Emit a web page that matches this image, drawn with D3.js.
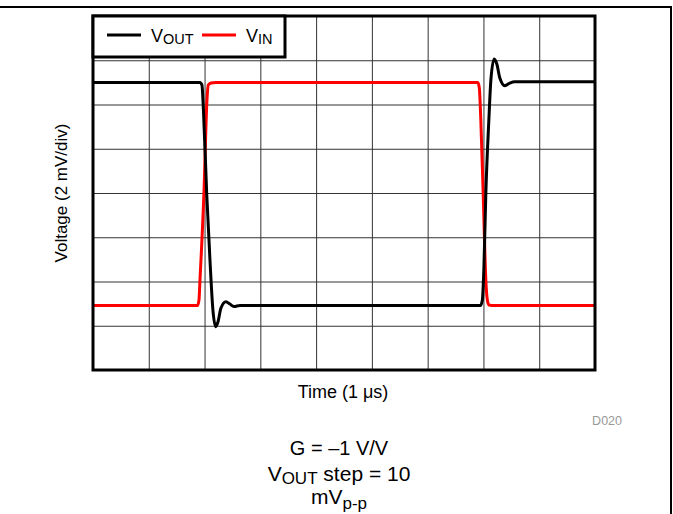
<!DOCTYPE html>
<html><head><meta charset="utf-8">
<script src="https://cdn.jsdelivr.net/npm/d3@7"></script>
<style>
body{margin:0;background:#fff;}
svg{display:block;font-family:Arial,"Liberation Sans",sans-serif;}
</style></head>
<body><svg id="c" width="673" height="514"></svg>
<script>
// time in µs, voltage in mV
const voutT = [0,1.917,1.953,1.98,2.038,2.097,2.15,2.199,2.24,2.294,2.383,2.455,2.527,2.634,6.948,6.98,7.007,7.043,7.097,7.133,7.192,7.24,7.294,7.384,7.473,7.563,9];
const voutV = [5.0,5.0,4.88,3.75,0,-3.03,-5.29,-6.04,-5.83,-5.2,-4.91,-5.02,-5.13,-5.08,-5.08,-4.85,-3.48,0,3.3,5.1,6.06,5.83,5.2,4.85,4.97,5.03,5.03];
const vinT = [0,1.873,1.9,1.918,1.989,2.043,2.066,2.115,2.204,6.9,6.926,6.953,6.995,7.043,7.07,7.097,7.2,9];
const vinV = [-5.09,-5.09,-4.84,-3.93,0,4.2,4.88,4.97,5.0,5.0,4.75,3.3,0,-3.93,-4.84,-5.06,-5.09,-5.09];
const xTicks = [0,1,2,3,4,5,6,7,8,9];
const yTicks = [-8,-6,-4,-2,0,2,4,6,8];
const seriesNames = ["VOUT","VIN"];

const svg = d3.select("#c");
const L=93,R=595,T=16,B=370;
const x = d3.scaleLinear().domain([0,9]).range([L,R]);
const y = d3.scaleLinear().domain([-8,8]).range([B,T]);

// outer frame lines
svg.append("line").attr("x1",0).attr("x2",672).attr("y1",7).attr("y2",7).attr("stroke","#000").attr("stroke-width",2);
svg.append("line").attr("x1",671).attr("x2",671).attr("y1",7).attr("y2",514).attr("stroke","#000").attr("stroke-width",2);

// grid
const g = svg.append("g");
g.append("g").attr("transform",`translate(0,${B})`)
 .call(d3.axisBottom(x).tickValues(xTicks).tickSize(-(B-T)).tickFormat(""))
 .call(s=>{s.select(".domain").remove();s.selectAll("line").attr("stroke","#333").attr("stroke-width",1);});
g.append("g").attr("transform",`translate(${L},0)`)
 .call(d3.axisLeft(y).tickValues(yTicks).tickSize(-(R-L)).tickFormat(""))
 .call(s=>{s.select(".domain").remove();s.selectAll("line").attr("stroke","#333").attr("stroke-width",1);});

const line = d3.line().x(d=>x(d[0])).y(d=>y(d[1])).curve(d3.curveMonotoneX);
svg.append("path").datum(vinT.map((t,i)=>[t,vinV[i]])).attr("d",line)
 .attr("fill","none").attr("stroke","#ff0000").attr("stroke-width",3).attr("stroke-linejoin","round");
svg.append("path").datum(voutT.map((t,i)=>[t,voutV[i]])).attr("d",line)
 .attr("fill","none").attr("stroke","#000").attr("stroke-width",3).attr("stroke-linejoin","round");

// plot border
svg.append("rect").attr("x",L).attr("y",T).attr("width",R-L).attr("height",B-T)
 .attr("fill","none").attr("stroke","#000").attr("stroke-width",3);

// legend
const lg = svg.append("g");
lg.append("rect").attr("x",L).attr("y",T).attr("width",192).attr("height",41)
 .attr("fill","#fff").attr("stroke","#000").attr("stroke-width",3);
const lgItems=[{n:"V",sub:"OUT",c:"#000",x0:107},{n:"V",sub:"IN",c:"#ff0000",x0:202}];
lgItems.forEach(it=>{
  lg.append("line").attr("x1",it.x0).attr("x2",it.x0+34).attr("y1",35).attr("y2",35).attr("stroke",it.c).attr("stroke-width",3);
  const t=lg.append("text").attr("x",it.x0+44).attr("y",42).attr("font-size",18).attr("fill","#000");
  t.append("tspan").text(it.n);
  t.append("tspan").attr("dy",2).attr("font-size",14.5).text(it.sub);
});

// axis titles
svg.append("text").attr("transform",`translate(67,${(T+B)/2}) rotate(-90)`).attr("text-anchor","middle")
 .attr("font-size",17).text("Voltage (2 mV/div)");
svg.append("text").attr("x",(L+R)/2-1).attr("y",398).attr("text-anchor","middle").attr("font-size",18).text("Time (1 μs)");
svg.append("text").attr("x",622).attr("y",425).attr("text-anchor","end").attr("font-size",12.5).attr("fill","#999").text("D020");

// caption
svg.append("text").attr("x",339).attr("y",455).attr("text-anchor","middle").attr("font-size",20).text("G = –1 V/V");
const c2=svg.append("text").attr("x",339).attr("y",481).attr("text-anchor","middle").attr("font-size",21);
c2.append("tspan").text("V");
c2.append("tspan").attr("dy",3).attr("font-size",17).text("OUT");
c2.append("tspan").attr("dy",-3).text(" step = 10");
const c3=svg.append("text").attr("x",339).attr("y",504).attr("text-anchor","middle").attr("font-size",21);
c3.append("tspan").text("mV");
c3.append("tspan").attr("dy",5).attr("font-size",17).text("p-p");
</script></body></html>
